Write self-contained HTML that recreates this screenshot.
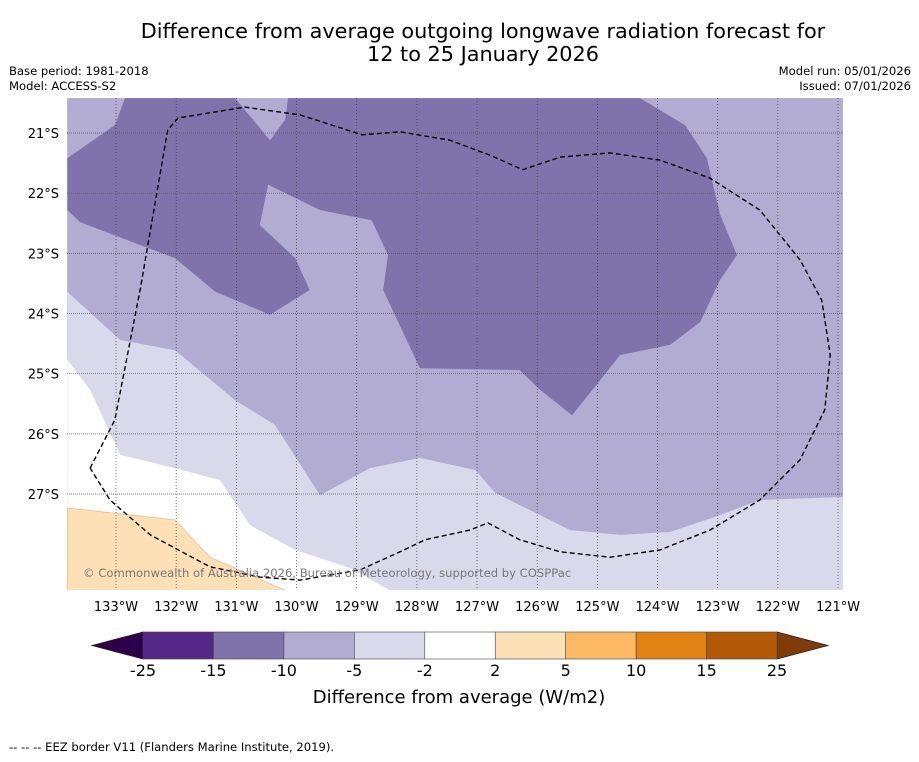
<!DOCTYPE html>
<html><head><meta charset="utf-8"><style>
body{margin:0;background:#fff;font-family:"DejaVu Sans","Liberation Sans",sans-serif;}
svg text{font-family:"DejaVu Sans","Liberation Sans",sans-serif;}
</style></head><body>
<svg id="c" width="919" height="758" xmlns="http://www.w3.org/2000/svg">
<text x="483" y="38" font-size="20.8" text-anchor="middle">Difference from average outgoing longwave radiation forecast for</text>
<text x="483" y="61" font-size="20.8" text-anchor="middle">12 to 25 January 2026</text>
<text x="9" y="75" font-size="11.6">Base period: 1981-2018</text>
<text x="9" y="90" font-size="11.6">Model: ACCESS-S2</text>
<text x="911" y="75" font-size="11.6" text-anchor="end">Model run: 05/01/2026</text>
<text x="911" y="90" font-size="11.6" text-anchor="end">Issued: 07/01/2026</text>
<defs><clipPath id="mc"><rect x="67" y="98" width="776" height="492"/></clipPath></defs>
<g id="map" clip-path="url(#mc)"></g>
<g id="axes"></g>
<g id="cbar"></g>
<text x="459" y="703" font-size="18" text-anchor="middle">Difference from average (W/m2)</text>
<text x="9" y="751" font-size="11.6">--  --  -- EEZ border V11 (Flanders Marine Institute, 2019).</text>
</svg>
<script>
// data (lon in °W, lat in °S)
const lonTicks=[133,132,131,130,129,128,127,126,125,124,123,122,121];
const latTicks=[21,22,23,24,25,26,27];
const levels=[-25,-15,-10,-5,-2,2,5,10,15,25];
const levelColors=["#542788","#8073ac","#b2abd2","#d8daeb","#ffffff","#fee0b6","#fdb863","#e08214","#b35806"];
const whiteLon=[133.81,133.43,132.93,132.02,131.27,130.77,130.02,129.11,128.45,133.81];
const whiteLat=[24.77,25.27,26.35,26.57,26.77,27.52,27.93,28.23,28.60,28.60];
const orangeLon=[133.81,132.02,131.44,130.19,133.81];
const orangeLat=[27.23,27.43,28.05,28.60,28.60];
const midLon=[133.81,120.92,120.92,122.30,122.96,123.79,124.62,125.45,126.70,127.03,127.95,128.78,129.61,130.36,131.02,132.02,132.93,133.81];
const midLat=[20.42,20.42,27.05,27.10,27.35,27.63,27.68,27.60,26.98,26.60,26.40,26.57,27.02,25.85,25.44,24.61,24.44,23.64];
const darkLon=[132.85,131.02,130.44,130.19,130.14,124.29,123.54,123.18,122.96,122.68,122.96,123.29,123.79,124.62,125.42,125.95,126.29,127.95,128.56,128.48,128.75,129.61,130.47,130.61,130.02,129.78,130.44,131.35,132.02,133.60,133.81,133.81,133.02];
const darkLat=[20.42,20.42,21.12,20.78,20.42,20.42,20.87,21.42,22.36,23.03,23.44,24.14,24.52,24.69,25.69,25.27,24.94,24.91,23.61,23.03,22.45,22.28,21.86,22.53,23.08,23.61,24.02,23.64,23.08,22.48,22.28,21.42,20.87];
const eezLon=[133.43,133.02,132.60,132.14,131.97,130.86,129.94,128.91,128.28,127.45,126.78,126.24,125.62,124.79,123.96,123.13,122.30,121.63,121.27,121.13,121.22,121.63,122.30,123.13,123.96,124.79,125.62,126.29,126.82,127.12,127.86,128.28,128.94,129.94,130.61,131.44,132.43,133.10,133.43];
const eezLat=[26.57,25.77,23.61,20.95,20.75,20.57,20.70,21.03,20.98,21.12,21.37,21.61,21.40,21.33,21.45,21.75,22.28,23.11,23.78,24.69,25.60,26.43,27.10,27.60,27.93,28.05,27.96,27.76,27.48,27.60,27.76,27.96,28.26,28.43,28.38,28.21,27.68,27.10,26.57];

const X=lon=>116+(133-lon)*60.17;
const Y=lat=>133+(lat-21)*60.17;
const NS="http://www.w3.org/2000/svg";
function mk(tag,attrs,parent){const e=document.createElementNS(NS,tag);for(const k in attrs)e.setAttribute(k,attrs[k]);parent.appendChild(e);return e;}
const map=document.getElementById('map'),axes=document.getElementById('axes'),cb=document.getElementById('cbar');
function pts(lo,la){return lo.map((v,i)=>X(v).toFixed(1)+','+Y(la[i]).toFixed(1)).join(' ');}

let bg=mk('rect',{x:67,y:98,width:776,height:492,fill:"#d8daeb"},map);


let p=mk('polygon',{points:pts(whiteLon,whiteLat),fill:"#ffffff"},map);


p=mk('polygon',{points:pts(orangeLon,orangeLat),fill:"#fee0b6",stroke:"#d8b88a","stroke-width":0.6},map);


p=mk('polygon',{points:pts(midLon,midLat),fill:"#b2abd2"},map);


p=mk('polygon',{points:pts(darkLon,darkLat),fill:"#8073ac"},map);



lonTicks.forEach(l=>{
  const g=mk('line',{x1:X(l),x2:X(l),y1:98,y2:590,stroke:"#444","stroke-width":0.7,"stroke-dasharray":"1,2"},map);
  
  
  const t=mk('text',{x:X(l),y:611,"font-size":13,"text-anchor":"middle"},axes);t.textContent=l+"°W";
  
  
});
latTicks.forEach(l=>{
  const g=mk('line',{x1:67,x2:843,y1:Y(l),y2:Y(l),stroke:"#555","stroke-width":0.7,"stroke-dasharray":"1,1"},map);
  
  
  const t=mk('text',{x:59,y:Y(l)+5,"font-size":13,"text-anchor":"end"},axes);t.textContent=l+"°S";
  
  
});
let e=mk('polyline',{points:pts(eezLon,eezLat),fill:"none",stroke:"#000","stroke-width":1.4,"stroke-dasharray":"5,3","stroke-linejoin":"round"},map);


let cr=mk('text',{x:83,y:577,"font-size":11.6,fill:"#777"},map);cr.textContent="© Commonwealth of Australia 2026, Bureau of Meteorology, supported by COSPPac";



// colorbar
const cx0=143,cw=70.45,cy=632,ch=27;
const C=i=>cx0+i*cw;
let tl=mk('polygon',{points:`${C(0)},${cy} ${C(0)},${cy+ch} 92,${cy+ch/2}`,fill:"#2d004b",stroke:"#222","stroke-width":0.8},cb);


let tr=mk('polygon',{points:`${C(levelColors.length)},${cy} ${C(levelColors.length)},${cy+ch} 828,${cy+ch/2}`,fill:"#7f3b08",stroke:"#222","stroke-width":0.8},cb);


levelColors.forEach((c,i)=>{
  const r=mk('rect',{x:C(i),y:cy,width:cw,height:ch,fill:c,stroke:"#444","stroke-width":0.6},cb);
  
  
});
levels.forEach((v,i)=>{
  const t=mk('text',{x:C(i),y:676,"font-size":16,"text-anchor":"middle"},cb);t.textContent=v;
  
  
});
</script>
</body></html>
